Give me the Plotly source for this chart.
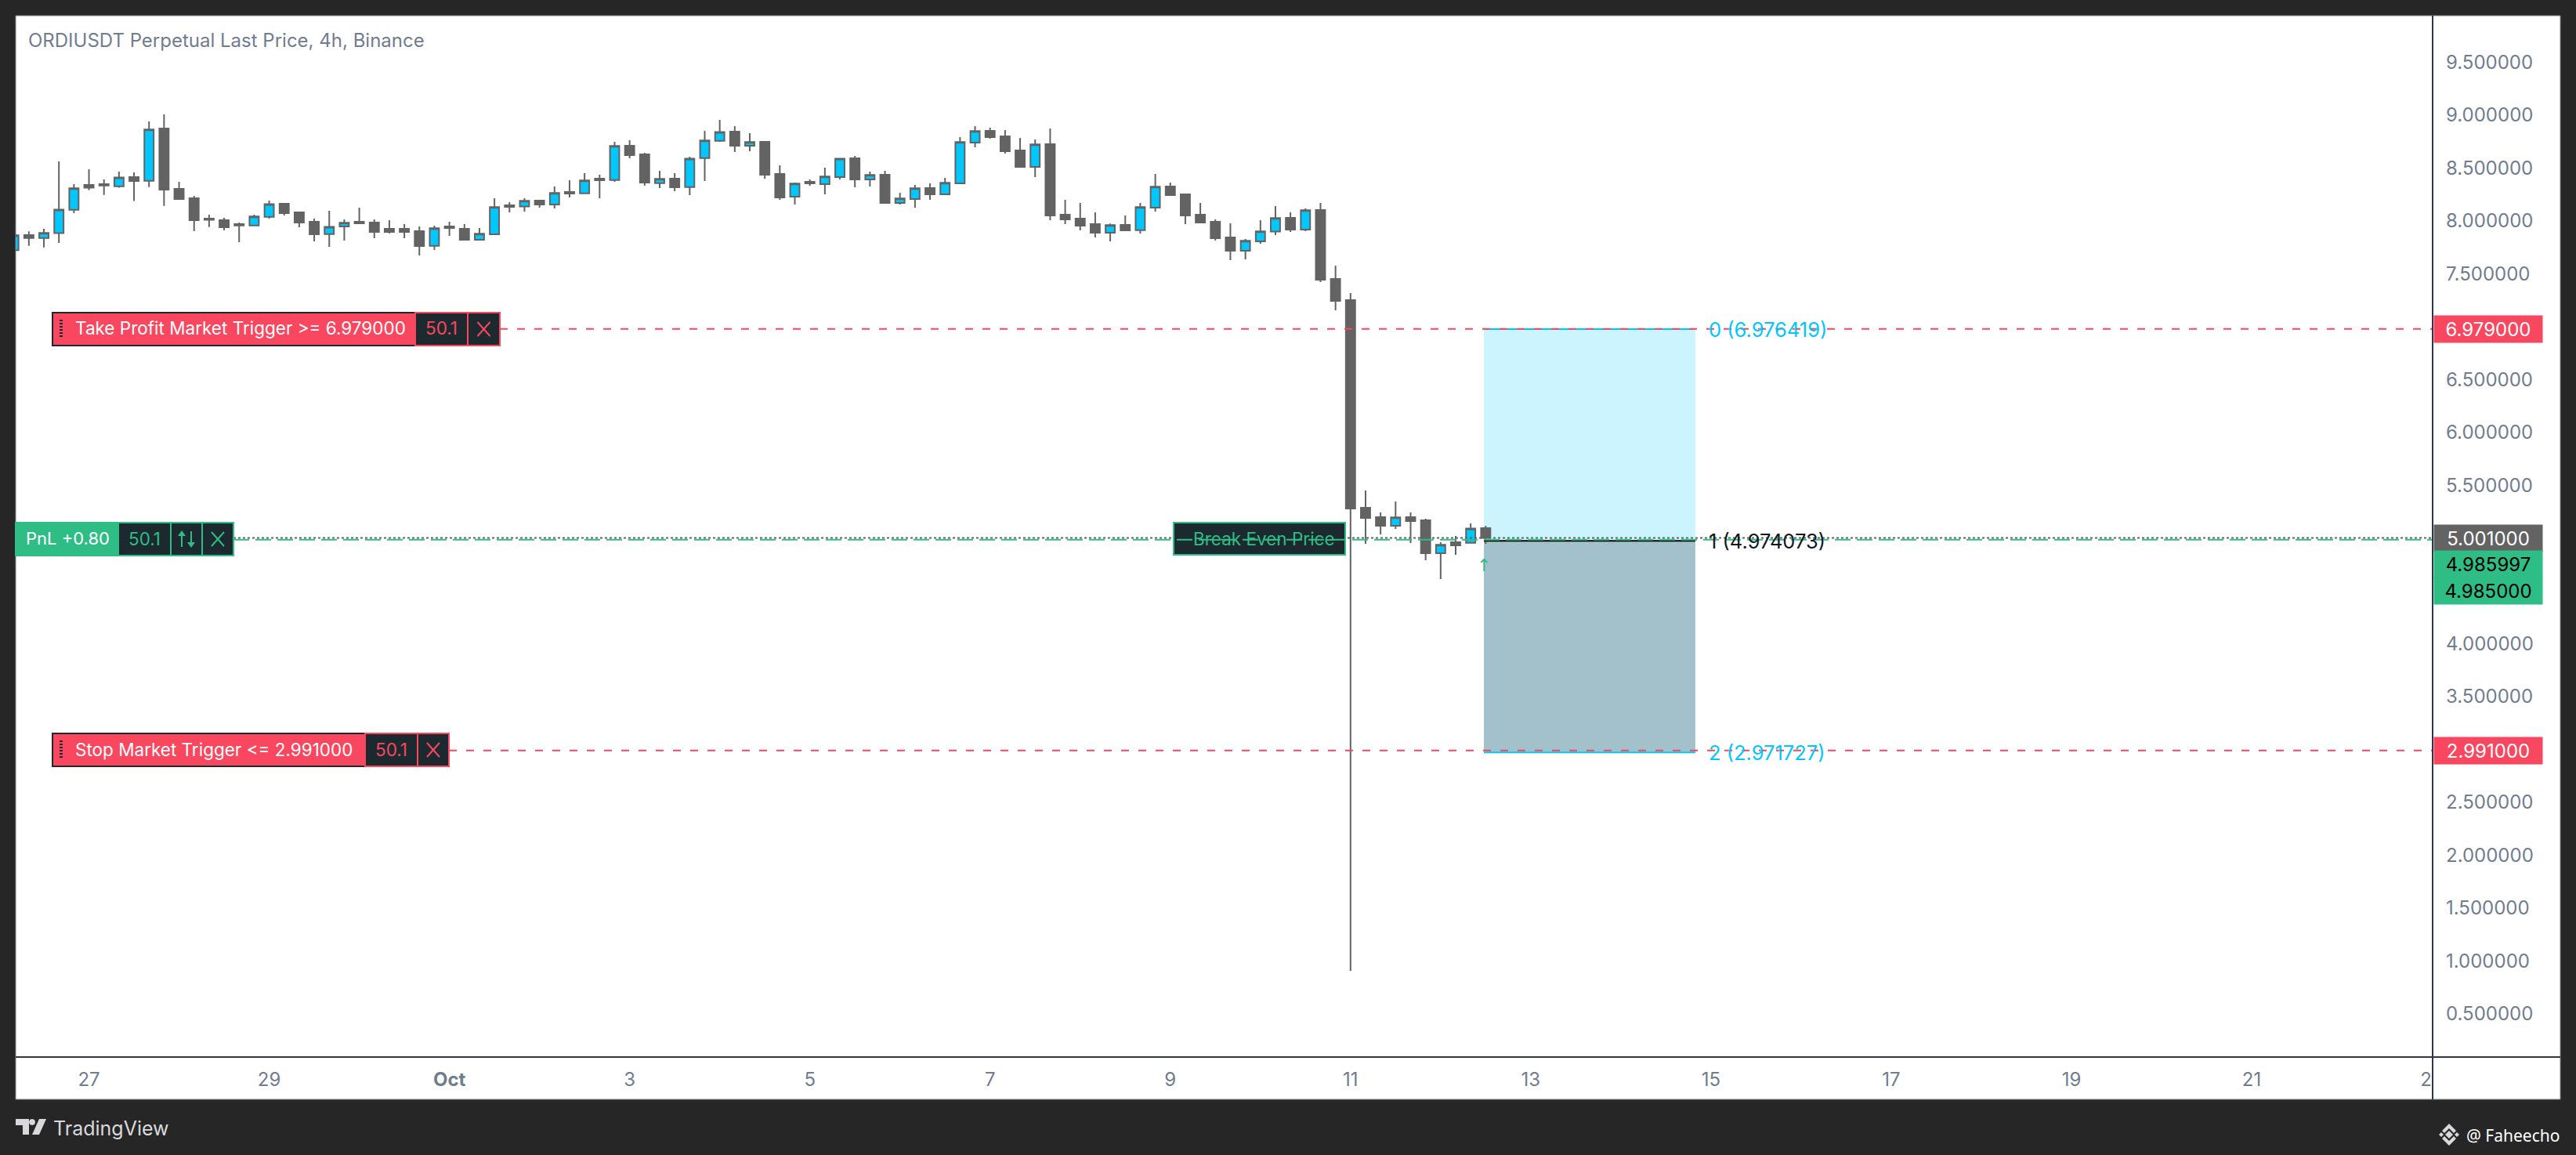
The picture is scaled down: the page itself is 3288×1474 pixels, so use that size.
#!/usr/bin/env python3
"""ORDIUSDT perpetual 4h chart with open orders and a fib position box."""

import pandas as pd
import plotly.graph_objects as go

# %% Data
first_candle = "2023-09-26 04:00"
opens = [
    7.723, 7.866, 7.839, 7.884, 8.106, 8.341, 8.348, 8.328, 8.415, 8.380,
    8.875, 8.304, 8.215, 8.022, 8.007, 7.970, 7.958, 8.039, 8.163, 8.081,
    7.992, 7.876, 7.948, 7.992, 7.985, 7.926, 7.926, 7.903, 7.765, 7.948,
    7.926, 7.822, 7.874, 8.148, 8.136, 8.193, 8.156, 8.274, 8.262, 8.400,
    8.388, 8.711, 8.630, 8.358, 8.400, 8.321, 8.595, 8.758, 8.845, 8.711,
    8.749, 8.445, 8.230, 8.370, 8.348, 8.415, 8.593, 8.393, 8.437, 8.170,
    8.207, 8.311, 8.252, 8.356, 8.741, 8.852, 8.800, 8.667, 8.511, 8.726,
    8.059, 8.022, 7.970, 7.889, 7.963, 7.913, 8.126, 8.326, 8.252, 8.059,
    7.992, 7.844, 7.718, 7.807, 7.899, 8.029, 7.918, 8.104, 7.451, 7.251,
    5.286, 5.197, 5.116, 5.197, 5.168, 4.856, 4.960, 4.955, 5.094,
]
highs = [
    7.879, 7.901, 7.926, 8.563, 8.348, 8.489, 8.393, 8.467, 8.459, 8.941,
    9.008, 8.370, 8.237, 8.059, 8.029, 7.985, 8.059, 8.193, 8.170, 8.081,
    8.022, 8.096, 8.015, 8.126, 8.015, 8.007, 7.970, 7.948, 7.955, 7.992,
    7.970, 7.933, 8.215, 8.178, 8.215, 8.200, 8.326, 8.385, 8.452, 8.437,
    8.749, 8.763, 8.645, 8.474, 8.452, 8.608, 8.852, 8.956, 8.897, 8.830,
    8.749, 8.526, 8.363, 8.393, 8.504, 8.590, 8.615, 8.467, 8.474, 8.267,
    8.341, 8.356, 8.408, 8.793, 8.897, 8.882, 8.860, 8.786, 8.771, 8.875,
    8.200, 8.170, 8.081, 7.975, 8.052, 8.170, 8.445, 8.363, 8.259, 8.170,
    8.015, 7.978, 7.829, 8.007, 8.141, 8.081, 8.118, 8.170, 7.577, 7.318,
    5.450, 5.242, 5.346, 5.242, 5.183, 4.960, 5.020, 5.138, 5.116,
]
lows = [
    7.718, 7.765, 7.750, 7.792, 8.074, 8.291, 8.247, 8.314, 8.188, 8.321,
    8.143, 8.207, 7.903, 7.943, 7.911, 7.800, 7.958, 8.022, 8.052, 7.941,
    7.807, 7.755, 7.814, 7.978, 7.837, 7.881, 7.837, 7.674, 7.726, 7.859,
    7.822, 7.814, 7.874, 8.081, 8.089, 8.126, 8.118, 8.222, 8.262, 8.215,
    8.370, 8.593, 8.333, 8.311, 8.282, 8.244, 8.378, 8.749, 8.652, 8.660,
    8.400, 8.200, 8.156, 8.333, 8.252, 8.393, 8.319, 8.326, 8.163, 8.156,
    8.126, 8.200, 8.252, 8.356, 8.697, 8.778, 8.637, 8.504, 8.415, 8.007,
    7.970, 7.911, 7.844, 7.807, 7.903, 7.881, 8.089, 8.237, 7.970, 7.978,
    7.814, 7.629, 7.637, 7.785, 7.866, 7.896, 7.903, 7.422, 7.155, 0.906,
    4.945, 5.034, 5.086, 4.953, 4.790, 4.612, 4.842, 4.953, 4.945,
]
closes = [
    7.864, 7.839, 7.886, 8.108, 8.309, 8.314, 8.336, 8.412, 8.378, 8.865,
    8.296, 8.207, 8.007, 8.010, 7.941, 7.958, 8.042, 8.160, 8.074, 7.985,
    7.874, 7.945, 7.983, 7.978, 7.896, 7.896, 7.896, 7.763, 7.931, 7.933,
    7.822, 7.879, 8.131, 8.133, 8.190, 8.156, 8.264, 8.259, 8.383, 8.385,
    8.709, 8.622, 8.363, 8.398, 8.319, 8.590, 8.761, 8.842, 8.711, 8.746,
    8.437, 8.222, 8.353, 8.356, 8.420, 8.590, 8.393, 8.435, 8.170, 8.212,
    8.309, 8.252, 8.361, 8.746, 8.850, 8.793, 8.660, 8.511, 8.724, 8.052,
    8.015, 7.955, 7.889, 7.960, 7.911, 8.131, 8.324, 8.244, 8.052, 7.985,
    7.837, 7.718, 7.812, 7.901, 8.027, 7.918, 8.101, 7.444, 7.244, 5.279,
    5.190, 5.116, 5.195, 5.160, 4.856, 4.936, 4.931, 5.091, 5.001,
]

price_ticks = [9.5, 9.0, 8.5, 8.0, 7.5, 6.5, 6.0, 5.5, 4.0, 3.5, 2.5, 2.0, 1.5, 1.0, 0.5]
date_ticks = [
    "2023-09-27", "2023-09-29", "2023-10-01", "2023-10-03", "2023-10-05", "2023-10-07",
    "2023-10-09", "2023-10-11", "2023-10-13", "2023-10-15", "2023-10-17", "2023-10-19",
    "2023-10-21", "2023-10-23",
]
date_labels = ["27", "29", "<b>Oct</b>", "3", "5", "7", "9", "11", "13", "15", "17", "19", "21", "23"]

take_profit = 6.979
stop_price = 2.991
last_price = 5.001
break_even = 4.985
mark_price = "4.985997"
fib_levels = [6.976419, 4.974073, 2.971727]
fib_labels = ["0 (6.976419)", "1 (4.974073)", "2 (2.971727)"]
fib_start = "2023-10-12 11:31"
fib_end = "2023-10-14 19:50"

# %% Colours and frame
WIDTH, HEIGHT = 3288, 1474
PLOT_L, PLOT_R, PLOT_T, PLOT_B = 20, 3105, 20, 1349
PANEL_R, PANEL_B = 3268, 1403
FONT = "Inter"
FRAME = "#262626"
AXIS_LINE = "#2f3645"
AXIS_TEXT = "#717c8e"
CANDLE = "#636363"
CYAN = "#00C8FF"
RED = "#F8475F"
GREEN = "#2EBD85"
DARK = "#1C2A30"


def px(x):
    return (x - PLOT_L) / (PLOT_R - PLOT_L)


def py(y):
    return (PLOT_B - y) / (PLOT_B - PLOT_T)


shapes = []
notes = []


def rect(x0, y0, x1, y1, fill, line=None, width=2, layer="above"):
    shapes.append(dict(
        type="rect", xref="paper", yref="paper", layer=layer,
        x0=px(x0), x1=px(x1), y0=py(y0), y1=py(y1), fillcolor=fill,
        line=dict(color=line or fill, width=width if line else 0),
    ))


def seg(x0, y0, x1, y1, color, width=2):
    shapes.append(dict(
        type="line", xref="paper", yref="paper", layer="above",
        x0=px(x0), x1=px(x1), y0=py(y0), y1=py(y1), line=dict(color=color, width=width),
    ))


def level(price, x0, color, dash, width=2):
    shapes.append(dict(
        type="line", xref="paper", yref="y", layer="above",
        x0=px(x0), x1=1, y0=price, y1=price, line=dict(color=color, width=width, dash=dash),
    ))


def poly(points, fill):
    path = "M " + " L ".join(f"{px(x)},{py(y)}" for x, y in points) + " Z"
    shapes.append(dict(
        type="path", xref="paper", yref="paper", layer="above",
        path=path, fillcolor=fill, line=dict(width=0),
    ))


def text(x, y, label, color, size=22.5, anchor="center", family=FONT):
    notes.append(dict(
        xref="paper", yref="paper", x=px(x), y=py(y), text=label, showarrow=False,
        xanchor=anchor, yanchor="middle", font=dict(family=family, size=size, color=color),
    ))


def close_mark(cx, cy, color):
    seg(cx - 8, cy - 9, cx + 8, cy + 9, color)
    seg(cx - 8, cy + 9, cx + 8, cy - 9, color)


def order_tag(label, x0, x_value, x_close, x1, cy):
    rect(x0, cy - 21, x_value, cy + 21, RED, DARK)
    for yy in range(cy - 11, cy + 12, 4):
        rect(76, yy - 1, 80, yy + 1, DARK)
    text(x0 + 27, cy - 1, label, "#ffffff", anchor="left")
    rect(x_value, cy - 21, x_close, cy + 21, DARK, RED)
    text((x_value + x_close) / 2, cy - 1, "50.1", RED)
    rect(x_close, cy - 21, x1, cy + 21, DARK, RED)
    close_mark((x_close + x1) / 2, cy, RED)


def price_tag(y, yref, label, fill, color):
    notes.append(dict(
        xref="paper", yref=yref, x=px(PLOT_R + 1), y=y, text=label, showarrow=False,
        xanchor="left", yanchor="middle", width=138, height=34, borderpad=0, align="center",
        bgcolor=fill, font=dict(family=FONT, size=24, color=color),
    ))


# %% Position box, behind the candles
rect(PLOT_L, PLOT_T, PANEL_R, PANEL_B, "#ffffff", "#808080", 1, layer="below")
for y0, y1, fill in [(fib_levels[0], fib_levels[1], "#CCF4FF"), (fib_levels[1], fib_levels[2], "#A3C1CA")]:
    shapes.append(dict(
        type="rect", xref="x", yref="y", layer="below", x0=fib_start, x1=fib_end,
        y0=y0, y1=y1, fillcolor=fill, line=dict(width=0),
    ))
for value, color in zip(fib_levels, [CYAN, "#000000", CYAN]):
    shapes.append(dict(
        type="line", xref="x", yref="y", layer="above", x0=fib_start, x1=fib_end,
        y0=value, y1=value, line=dict(color=color, width=2),
    ))
for value, label, color in zip(fib_levels, fib_labels, [CYAN, "#131722", CYAN]):
    notes.append(dict(
        xref="x", yref="y", x=fib_end, y=value, text=label, showarrow=False, xanchor="left",
        yanchor="middle", xshift=15, font=dict(family=FONT, size=25.5, color=color),
    ))

# %% Order lines and labels
level(take_profit, 638, RED, "10px,12px")
level(stop_price, 573, RED, "10px,12px")
level(last_price, 298, CANDLE, "3px,3px")

order_tag(f"Take Profit Market Trigger >= {take_profit:.6f}", 67, 530, 597, 638, 420)
order_tag(f"Stop Market Trigger <= {stop_price:.6f}", 67, 466, 533, 573, 957)

rect(PLOT_L, 667, 151, 709, GREEN, GREEN)
text(31, 687, "PnL +0.80", "#ffffff", size=22, anchor="left")
for x0, x1 in [(151, 218), (218, 258), (258, 298)]:
    rect(x0, 667, x1, 709, DARK, GREEN)
text(184, 687, "50.1", GREEN)
seg(232, 680, 232, 698, GREEN)
poly([(227, 684), (232, 677), (237, 684)], GREEN)
seg(244, 678, 244, 696, GREEN)
poly([(239, 692), (244, 699), (249, 692)], GREEN)
close_mark(278, 688, GREEN)

rect(1498, 667, 1717, 708, DARK, GREEN)
text(1613, 687, "Break Even Price", GREEN)
level(break_even, 298, GREEN, "20px,8px")
notes.append(dict(
    xref="x", yref="y", x=fib_start, y=4.74, text="↑", showarrow=False,
    font=dict(family="DejaVu Sans", size=22, color=GREEN),
))

# %% Price axis tags
price_tag(take_profit, "y", f"{take_profit:.6f}", RED, "#ffffff")
price_tag(stop_price, "y", f"{stop_price:.6f}", RED, "#ffffff")
price_tag(last_price, "y", f"{last_price:.6f}", CANDLE, "#ffffff")
price_tag(py(720), "paper", mark_price, GREEN, "#000000")
price_tag(py(754), "paper", f"{break_even:.6f}", GREEN, "#000000")

# %% Axis frame: hide the end of the last date label, then draw the rules
rect(PLOT_R, PLOT_B, PANEL_R - 1, PANEL_B - 1, "#ffffff")
seg(PLOT_L, PLOT_B, PANEL_R, PLOT_B, AXIS_LINE)
seg(PLOT_R, PLOT_T, PLOT_R, PANEL_B, AXIS_LINE)

# %% Footer
poly([(20, 1428), (37, 1428), (37, 1448), (29, 1448), (29, 1436), (20, 1436)], "#d9d9dd")
poly([(37, 1432), (38, 1429), (41, 1428), (44, 1429), (45, 1432), (44, 1435), (41, 1436), (38, 1435)], "#d9d9dd")
poly([(50, 1428), (59, 1428), (50, 1448), (41, 1448)], "#d9d9dd")
text(66, 1440, "TradingView", "#d9d9dd", size=25, anchor="left")

poly([(3126, 1443), (3131, 1448), (3126, 1453), (3121, 1448)], "#d9d9dd")
poly([(3116, 1445), (3119, 1448), (3116, 1451), (3113, 1448)], "#d9d9dd")
poly([(3136, 1445), (3139, 1448), (3136, 1451), (3133, 1448)], "#d9d9dd")
poly([(3126, 1434), (3135, 1443), (3132, 1446), (3126, 1440), (3120, 1446), (3117, 1443)], "#d9d9dd")
poly([(3126, 1462), (3135, 1453), (3132, 1450), (3126, 1456), (3120, 1450), (3117, 1453)], "#d9d9dd")
text(3146, 1449, "@ Faheecho", "#ffffff", size=21, anchor="left", family="Noto Sans")

# %% Figure
times = pd.date_range(first_candle, periods=len(opens), freq="4h")

fig = go.Figure(go.Candlestick(
    x=times, open=opens, high=highs, low=lows, close=closes,
    increasing=dict(line=dict(color=CANDLE, width=2), fillcolor=CYAN),
    decreasing=dict(line=dict(color=CANDLE, width=2), fillcolor=CANDLE),
    whiskerwidth=0, showlegend=False, hoverinfo="skip",
))
fig.update_layout(
    width=WIDTH,
    height=HEIGHT,
    margin=dict(l=PLOT_L, r=WIDTH - PLOT_R, t=PLOT_T, b=HEIGHT - PLOT_B, pad=0),
    paper_bgcolor=FRAME,
    plot_bgcolor="#ffffff",
    boxgap=0.38,
    boxgroupgap=0,
    showlegend=False,
    title=dict(
        text="ORDIUSDT Perpetual Last Price, 4h, Binance",
        x=36 / WIDTH, xanchor="left", xref="container", y=1 - 52 / HEIGHT, yanchor="middle",
        font=dict(family=FONT, size=24, color=AXIS_TEXT),
    ),
    xaxis=dict(
        type="date", range=["2023-09-26 04:29", "2023-10-23 00:12"], rangeslider=dict(visible=False),
        tickmode="array", tickvals=date_ticks, ticktext=date_labels, tickangle=0,
        showgrid=False, zeroline=False, showline=False, ticks="", ticklabelstandoff=12,
        tickfont=dict(family=FONT, size=24, color=AXIS_TEXT),
    ),
    yaxis=dict(
        side="right", range=[0.090, 9.942], tickmode="array", tickvals=price_ticks, tickformat=".6f",
        showgrid=False, zeroline=False, showline=False, ticks="", ticklabelstandoff=16,
        tickfont=dict(family=FONT, size=24, color=AXIS_TEXT),
    ),
    shapes=shapes,
    annotations=notes,
)

# the page margin would push the figure off the window
fig.write_html(
    "out.html",
    config=dict(displayModeBar=False),
    post_script="document.body.style.margin = '0';",
)
